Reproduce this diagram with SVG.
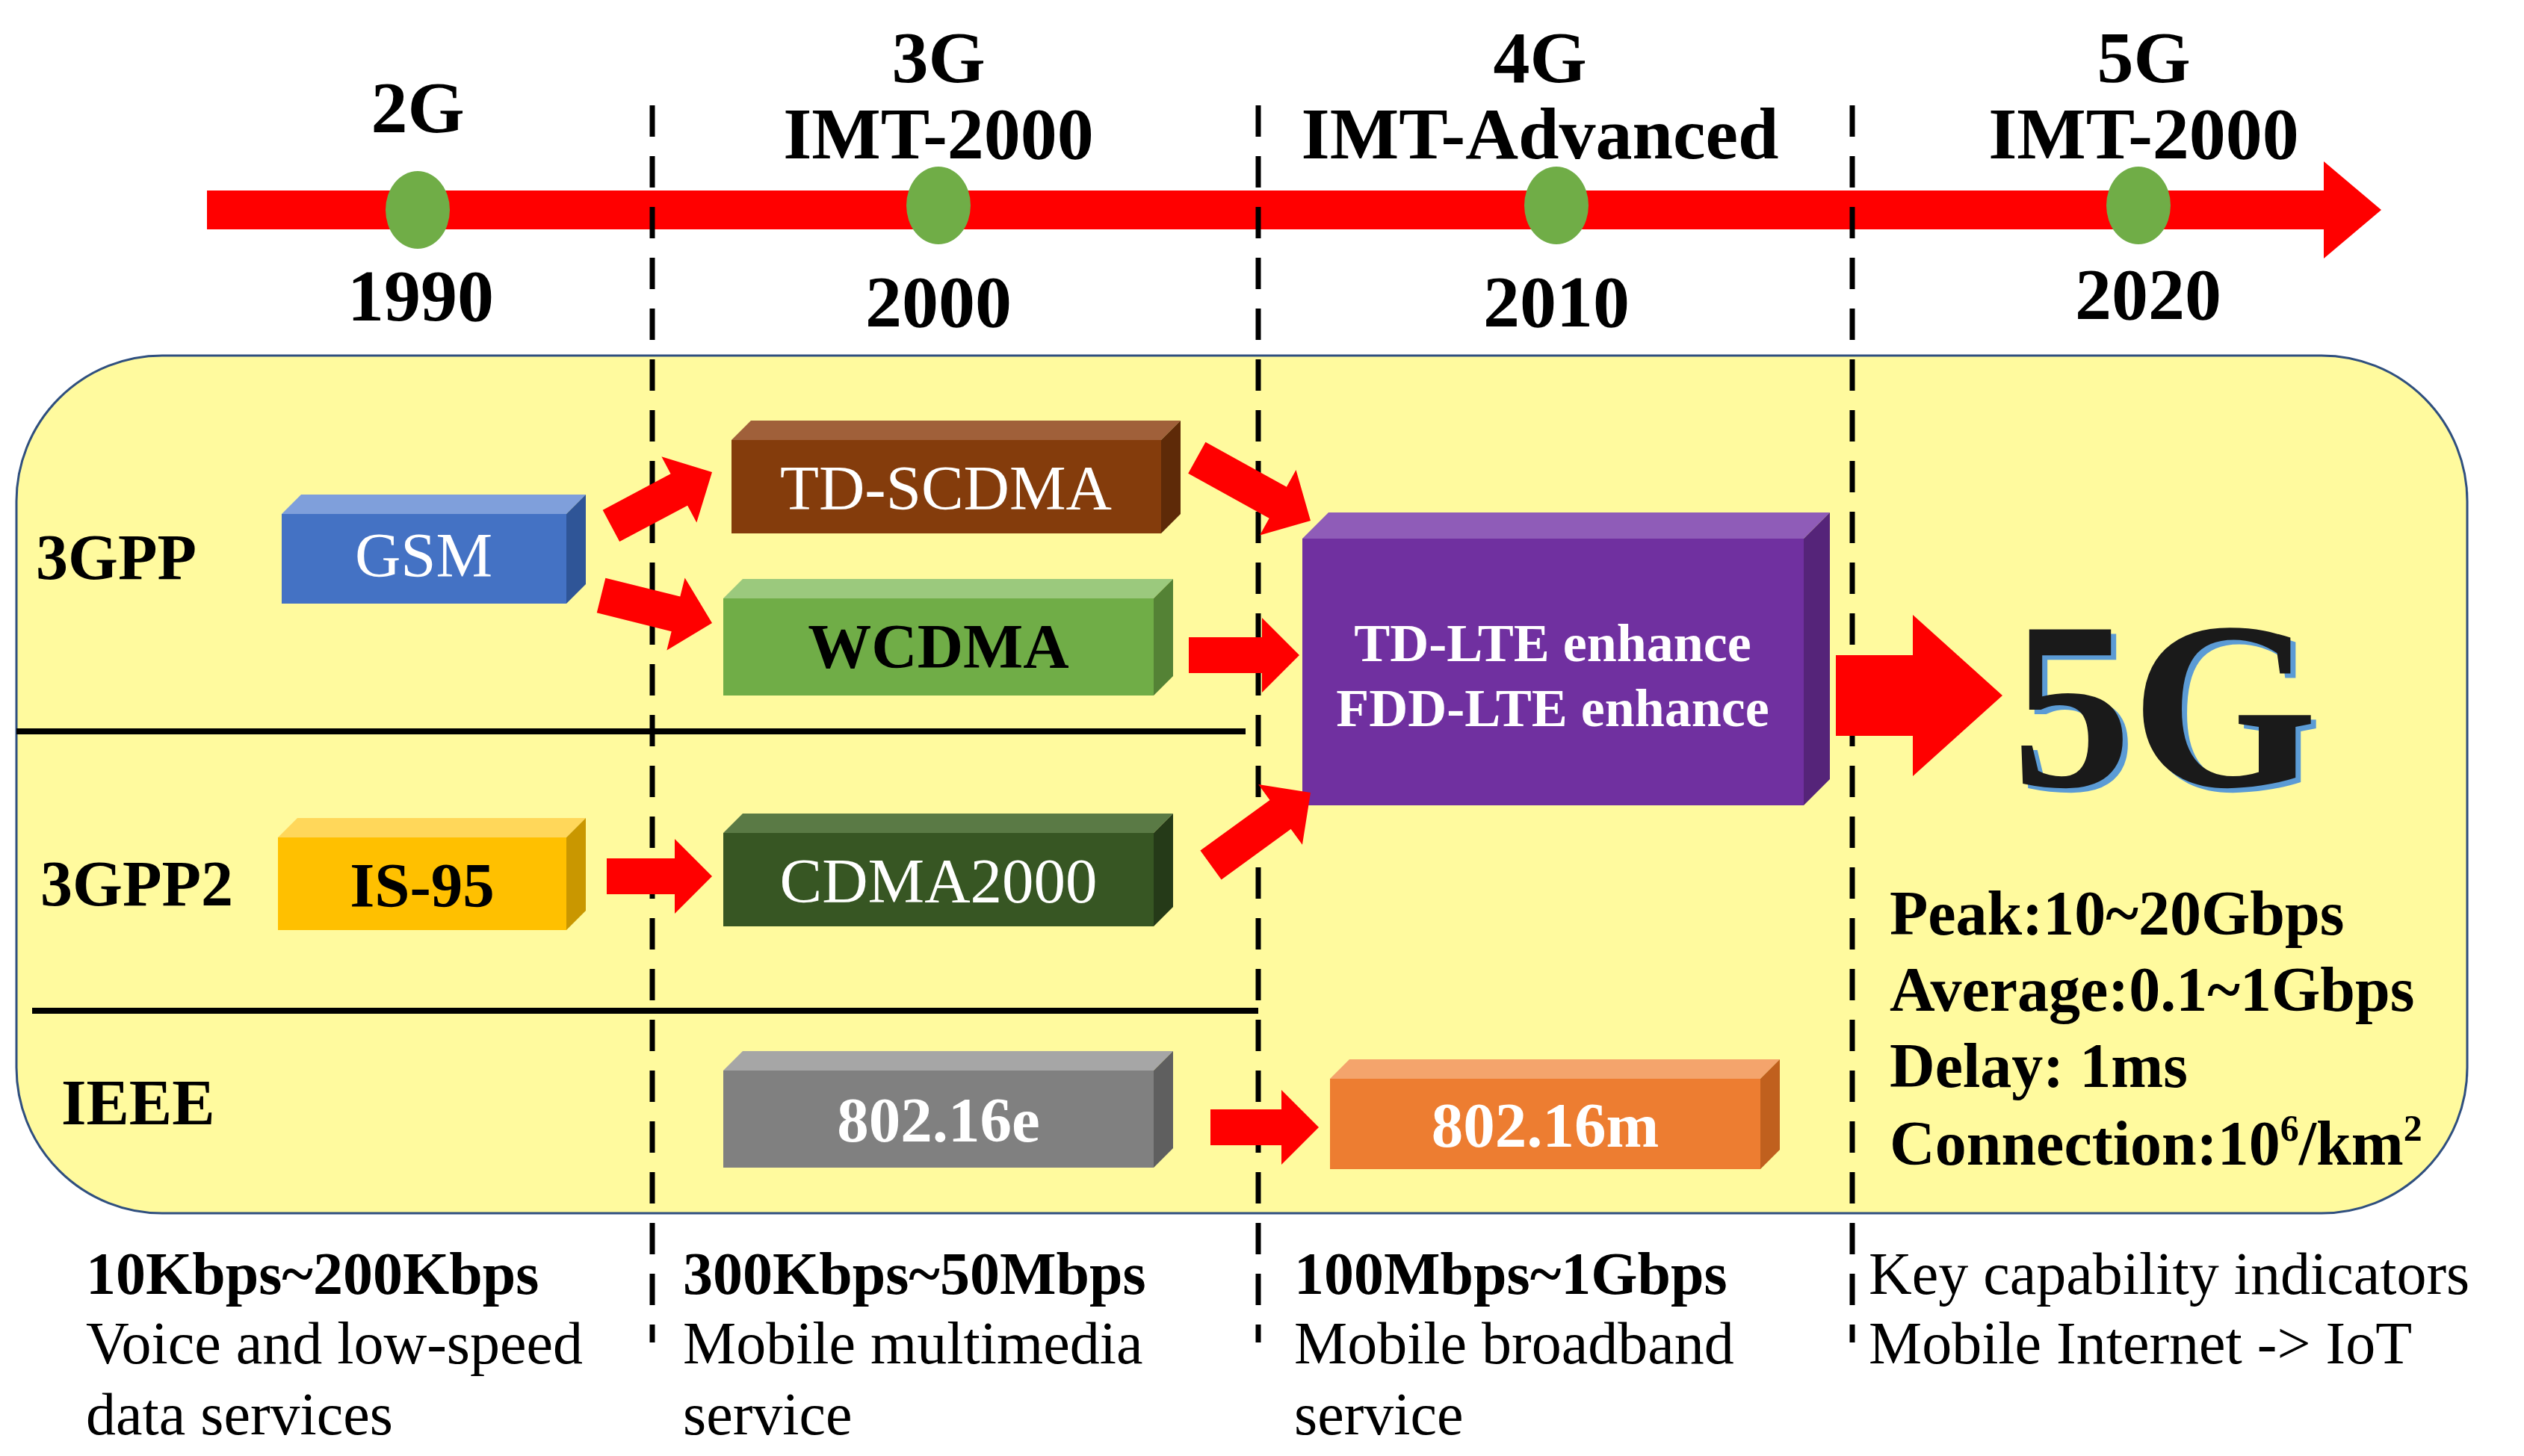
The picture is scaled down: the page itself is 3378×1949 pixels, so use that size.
<svg xmlns="http://www.w3.org/2000/svg" width="3378" height="1949" viewBox="0 0 3378 1949">
<style>
.t{font-family:"Liberation Serif","Times New Roman",serif;}
.b{font-weight:bold;}
.hd{font-size:98px;font-weight:bold;text-anchor:middle;}
.lb{font-size:86px;font-weight:bold;}
.bx{font-size:85px;text-anchor:middle;}
.btm{font-size:80px;}
.ar{fill:#f00;}
.dash{stroke:#000;stroke-width:7;stroke-dasharray:42,26;fill:none;}
</style>
<g id="timeline">
<rect x="277" y="255" width="2850" height="52" fill="#f00"/>
<polygon points="3110,216 3187,281 3110,346" fill="#f00"/>
<ellipse cx="559" cy="281" rx="43" ry="52" fill="#70AD47"/>
<ellipse cx="1256" cy="275" rx="43" ry="52" fill="#70AD47"/>
<ellipse cx="2083" cy="275" rx="43" ry="52" fill="#70AD47"/>
<ellipse cx="2862" cy="275" rx="43" ry="52" fill="#70AD47"/>
<text class="t hd" x="559" y="177">2G</text>
<text class="t hd" x="563" y="429">1990</text>
<text class="t hd" x="1256" y="110">3G</text>
<text class="t hd" x="1256" y="212">IMT-2000</text>
<text class="t hd" x="1256" y="437">2000</text>
<text class="t hd" x="2061" y="110">4G</text>
<text class="t hd" x="2061" y="212">IMT-Advanced</text>
<text class="t hd" x="2083" y="437">2010</text>
<text class="t hd" x="2869" y="110">5G</text>
<text class="t hd" x="2869" y="212">IMT-2000</text>
<text class="t hd" x="2875" y="427">2020</text>
</g>
<g id="panel">
<rect x="22" y="476" width="3280" height="1148" rx="195" fill="#FFFA9E" stroke="#2F4F7F" stroke-width="3"/>
<line x1="22" y1="979" x2="1667" y2="979" stroke="#000" stroke-width="8"/>
<line x1="43" y1="1353" x2="1684" y2="1353" stroke="#000" stroke-width="8"/>
<text class="t lb" x="48" y="775">3GPP</text>
<text class="t lb" x="54" y="1212">3GPP2</text>
<text class="t lb" x="82" y="1505">IEEE</text>
</g>
<g id="dividers">
<line class="dash" x1="873" y1="141" x2="873" y2="1797"/>
<line class="dash" x1="1684" y1="141" x2="1684" y2="1797"/>
<line class="dash" x1="2479" y1="141" x2="2479" y2="1797"/>
</g>
<g id="gsm">
<rect x="377" y="688" width="381" height="120" fill="#4472C4"/>
<polygon points="377,688 403,662 784,662 758,688" fill="#7F9FDB"/>
<polygon points="758,688 784,662 784,782 758,808" fill="#2F5597"/>
<text class="t bx" x="567" y="772" fill="#fff">GSM</text>
</g>
<g id="tdscdma">
<rect x="979" y="589" width="575" height="125" fill="#843C0C"/>
<polygon points="979,589 1005,563 1580,563 1554,589" fill="#A0603A"/>
<polygon points="1554,589 1580,563 1580,688 1554,714" fill="#5E2A08"/>
<text class="t bx" x="1266" y="682" fill="#fff">TD-SCDMA</text>
</g>
<g id="wcdma">
<rect x="968" y="801" width="576" height="130" fill="#70AD47"/>
<polygon points="968,801 994,775 1570,775 1544,801" fill="#9BC97D"/>
<polygon points="1544,801 1570,775 1570,905 1544,931" fill="#548235"/>
<text class="t bx b" x="1256" y="894" fill="#000">WCDMA</text>
</g>
<g id="is95">
<rect x="372" y="1121" width="386" height="124" fill="#FFC000"/>
<polygon points="372,1121 398,1095 784,1095 758,1121" fill="#FFD75A"/>
<polygon points="758,1121 784,1095 784,1219 758,1245" fill="#C99700"/>
<text class="t bx b" x="565" y="1214" fill="#000">IS-95</text>
</g>
<g id="cdma2000">
<rect x="968" y="1115" width="576" height="125" fill="#375623"/>
<polygon points="968,1115 994,1089 1570,1089 1544,1115" fill="#5A7A45"/>
<polygon points="1544,1115 1570,1089 1570,1214 1544,1240" fill="#253A18"/>
<text class="t bx" x="1256" y="1208" fill="#fff">CDMA2000</text>
</g>
<g id="e80216e">
<rect x="968" y="1433" width="576" height="130" fill="#808080"/>
<polygon points="968,1433 994,1407 1570,1407 1544,1433" fill="#A6A6A6"/>
<polygon points="1544,1433 1570,1407 1570,1537 1544,1563" fill="#5F5F5F"/>
<text class="t bx b" x="1256" y="1528" fill="#fff">802.16e</text>
</g>
<g id="e80216m">
<rect x="1780" y="1444" width="576" height="121" fill="#ED7D31"/>
<polygon points="1780,1444 1806,1418 2382,1418 2356,1444" fill="#F4A46C"/>
<polygon points="2356,1444 2382,1418 2382,1539 2356,1565" fill="#C0601E"/>
<text class="t bx b" x="2068" y="1535" fill="#fff">802.16m</text>
</g>
<g id="lte">
<rect x="1743" y="721" width="671" height="357" fill="#7030A0"/>
<polygon points="1743,721 1778,686 2449,686 2414,721" fill="#8F5CB8"/>
<polygon points="2414,721 2449,686 2449,1043 2414,1078" fill="#552479"/>
<text class="t b" x="2078" y="885" font-size="72" text-anchor="middle" fill="#fff">TD-LTE enhance</text>
<text class="t b" x="2078" y="972" font-size="72" text-anchor="middle" fill="#fff">FDD-LTE enhance</text>
</g>
<g id="connectors">
<polygon class="ar" transform="translate(953,632) rotate(-28)" points="0,0 -50,-50 -50,-24 -153,-24 -153,24 -50,24 -50,50"/>
<polygon class="ar" transform="translate(953,834) rotate(14)" points="0,0 -50,-50 -50,-24 -153,-24 -153,24 -50,24 -50,50"/>
<polygon class="ar" transform="translate(953,1173)" points="0,0 -50,-50 -50,-24 -141,-24 -141,24 -50,24 -50,50"/>
<polygon class="ar" transform="translate(1754,697) rotate(29)" points="0,0 -50,-50 -50,-24 -174,-24 -174,24 -50,24 -50,50"/>
<polygon class="ar" transform="translate(1739,877)" points="0,0 -50,-50 -50,-24 -148,-24 -148,24 -50,24 -50,50"/>
<polygon class="ar" transform="translate(1754,1061) rotate(-36)" points="0,0 -50,-50 -50,-24 -165,-24 -165,24 -50,24 -50,50"/>
<polygon class="ar" transform="translate(1765,1509)" points="0,0 -50,-50 -50,-24 -145,-24 -145,24 -50,24 -50,50"/>
<polygon class="ar" points="2457,877 2560,877 2560,823 2680,931 2560,1039 2560,985 2457,985"/>
</g>
<g id="g5">
<text class="t b" x="2904" y="1058" font-size="320" text-anchor="middle" fill="#5B9BD5">5G</text>
<text class="t b" x="2897" y="1052" font-size="320" text-anchor="middle" fill="#1a1a1a">5G</text>
<text class="t b" x="2529" y="1251" font-size="84">Peak:10~20Gbps</text>
<text class="t b" x="2529" y="1353" font-size="84">Average:0.1~1Gbps</text>
<text class="t b" x="2529" y="1455" font-size="84">Delay: 1ms</text>
<text class="t b" x="2529" y="1559" font-size="84">Connection:10<tspan font-size="50" dy="-32">6</tspan><tspan dy="32">/km</tspan><tspan font-size="50" dy="-32">2</tspan></text>
</g>
<g id="bottom">
<text class="t btm b" x="115" y="1732">10Kbps~200Kbps</text>
<text class="t btm" x="115" y="1825">Voice and low-speed</text>
<text class="t btm" x="115" y="1920">data services</text>
<text class="t btm b" x="914" y="1732">300Kbps~50Mbps</text>
<text class="t btm" x="914" y="1825">Mobile multimedia</text>
<text class="t btm" x="914" y="1920">service</text>
<text class="t btm b" x="1732" y="1732">100Mbps~1Gbps</text>
<text class="t btm" x="1732" y="1825">Mobile broadband</text>
<text class="t btm" x="1732" y="1920">service</text>
<text class="t btm" x="2501" y="1732">Key capability indicators</text>
<text class="t btm" x="2501" y="1825">Mobile Internet -&gt; IoT</text>
</g>
</svg>
